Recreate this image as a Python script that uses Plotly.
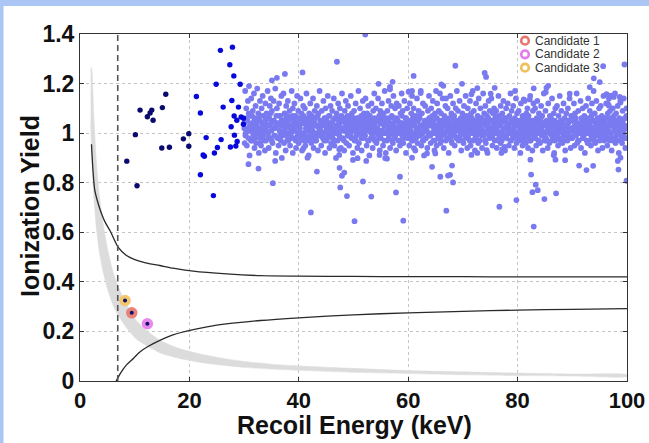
import plotly.graph_objects as go

# ---------------- data ----------------
threshold_kev = 6.9

# navy points (low-energy events)
navy_x = [15.68, 10.98, 13.12, 12.81, 12.31, 13.36, 15.06, 10.12, 14.95, 16.34, 18.90, 19.89, 19.89, 8.55, 10.43]
navy_y = [1.157, 1.093, 1.093, 1.081, 1.066, 1.052, 1.103, 0.994, 0.940, 0.943, 0.977, 0.998, 0.947, 0.887, 0.788]

# bright blue points
blue_x = [21.28, 22.01, 23.06, 22.51, 22.74, 22.01, 24.39, 24.57, 25.12, 25.80, 24.89, 26.17, 25.67, 27.87,
          27.39, 28.12, 29.28, 27.76, 28.97, 28.18, 28.67, 29.46, 29.88, 27.63, 29.88, 28.23, 28.73, 27.50, 28.49]
blue_y = [1.148, 1.081, 0.982, 0.912, 0.907, 0.832, 0.748, 0.920, 0.942, 0.974, 1.197, 1.105, 1.334, 1.347,
          1.276, 1.231, 1.197, 1.132, 1.105, 1.069, 1.052, 1.065, 1.060, 1.026, 1.036, 0.992, 0.966, 0.944, 0.948]

# light purple cloud (band)
cloud_core = [
    (30.0,1.04),(30.1,0.96),(30.2,1.17),(30.3,1.00),(30.4,1.10),(30.5,0.95),(30.6,1.05),(30.7,1.13),(30.8,0.98),(30.9,1.02),(30.9,1.19),
    (31.0,0.91),(31.1,1.07),(31.2,1.01),(31.3,1.14),(31.4,0.97),(31.5,1.04),(31.6,1.09),(31.7,0.99),(31.8,1.16),(31.9,1.02),(31.9,0.94),
    (32.0,1.06),(32.1,1.11),(32.2,0.96),(32.3,1.03),(32.4,1.18),(32.5,1.00),(32.6,1.08),(32.7,0.92),(32.8,1.05),(32.9,1.13),(32.9,0.98),
    (33.0,1.02),(33.1,0.95),(33.2,1.10),(33.3,1.04),(33.4,1.15),(33.5,0.99),(33.6,1.07),(33.7,1.01),(33.8,0.93),(33.9,1.12),(33.9,1.05),
    (34.0,0.97),(34.1,1.08),(34.2,1.03),(34.3,1.17),(34.4,1.00),(34.5,0.94),(34.6,1.06),(34.7,1.11),(34.8,0.98),(34.9,1.04),(34.9,1.14),
    (35.0,1.01),(35.1,1.09),(35.2,0.96),(35.3,1.05),(35.4,1.13),(35.5,0.99),(35.6,1.02),(35.7,1.18),(35.8,0.92),(35.9,1.07),(35.9,1.03),
    (36.0,1.10),(36.1,0.98),(36.2,1.04),(36.3,0.95),(36.4,1.12),(36.5,1.01),(36.6,1.07),(36.7,0.97),(36.8,1.15),(36.9,1.03),(36.9,0.90),
    (37.0,1.05),(37.1,1.00),(37.2,1.16),(37.3,0.96),(37.4,1.08),(37.5,1.02),(37.6,0.93),(37.7,1.11),(37.8,1.04),(37.9,0.99),(37.9,1.07),
    (38.0,1.13),(38.1,0.97),(38.2,1.03),(38.3,1.09),(38.4,0.95),(38.5,1.06),(38.6,1.00),(38.7,1.17),(38.8,1.02),(38.9,0.92),(38.9,1.10),
    (39.0,1.04),(39.1,0.98),(39.2,1.12),(39.3,1.01),(39.4,1.07),(39.5,0.94),(39.6,1.05),(39.7,1.15),(39.8,0.99),(39.9,1.03),(39.9,1.09),
    (40.0,0.96),(40.1,1.06),(40.2,1.02),(40.3,1.14),(40.4,0.99),(40.5,1.08),(40.6,0.93),(40.7,1.04),(40.8,1.11),(40.9,1.00),(40.9,0.97),
    (41.0,1.05),(41.1,1.10),(41.2,0.95),(41.3,1.02),(41.4,1.16),(41.5,0.98),(41.6,1.06),(41.7,1.01),(41.8,0.91),(41.9,1.08),(41.9,1.03),
    (42.0,0.99),(42.1,1.12),(42.2,1.04),(42.3,0.96),(42.4,1.07),(42.5,1.01),(42.6,1.14),(42.7,0.94),(42.8,1.03),(42.9,1.09),(42.9,0.98),
    (43.0,1.06),(43.1,1.00),(43.2,0.97),(43.3,1.11),(43.4,1.03),(43.5,0.93),(43.6,1.08),(43.7,1.02),(43.8,1.17),(43.9,0.99),(43.9,1.05),
    (44.0,1.01),(44.1,0.95),(44.2,1.09),(44.3,1.04),(44.4,0.98),(44.5,1.13),(44.6,1.00),(44.7,1.06),(44.8,0.92),(44.9,1.03),(44.9,1.10),
    (45.0,0.97),(45.1,1.05),(45.2,1.02),(45.3,1.15),(45.4,0.99),(45.5,1.07),(45.6,0.94),(45.7,1.03),(45.8,1.11),(45.9,1.00),(45.9,0.96),
    (46.0,1.04),(46.1,1.09),(46.2,0.98),(46.3,1.01),(46.4,1.14),(46.5,0.95),(46.6,1.06),(46.7,1.02),(46.8,0.90),(46.9,1.08),(46.9,1.00),
    (47.0,1.03),(47.1,0.97),(47.2,1.12),(47.3,1.05),(47.4,0.99),(47.5,1.10),(47.6,1.01),(47.7,0.94),(47.8,1.07),(47.9,1.16),(47.9,1.02),
    (48.0,0.98),(48.1,1.06),(48.2,1.01),(48.3,0.93),(48.4,1.09),(48.5,1.04),(48.6,1.13),(48.7,0.96),(48.8,1.02),(48.9,1.07),(48.9,0.99),
    (49.0,1.11),(49.1,1.00),(49.2,0.95),(49.3,1.05),(49.4,1.02),(49.5,1.15),(49.6,0.98),(49.7,1.08),(49.8,1.03),(49.9,0.92),(49.9,1.06),
    (50.0,1.01),(50.1,1.09),(50.2,0.97),(50.3,1.04),(50.4,1.12),(50.5,0.99),(50.6,1.06),(50.7,0.94),(50.8,1.02),(50.9,1.17),(50.9,1.05),
    (51.0,0.96),(51.1,1.03),(51.2,1.10),(51.3,1.00),(51.4,1.07),(51.5,0.93),(51.6,1.04),(51.7,1.13),(51.8,0.98),(51.9,1.01),(51.9,1.08),
    (52.0,1.05),(52.1,0.99),(52.2,1.14),(52.3,1.02),(52.4,0.95),(52.5,1.08),(52.6,1.01),(52.7,1.11),(52.8,0.97),(52.9,1.04),(52.9,0.91),
    (53.0,1.07),(53.1,1.02),(53.2,0.98),(53.3,1.12),(53.4,1.04),(53.5,0.94),(53.6,1.09),(53.7,1.00),(53.8,1.16),(53.9,1.03),(53.9,0.97),
    (54.0,1.01),(54.1,1.10),(54.2,0.96),(54.3,1.05),(54.4,1.02),(54.5,1.14),(54.6,0.99),(54.7,1.07),(54.8,0.93),(54.9,1.04),(54.9,1.09),
    (55.0,0.98),(55.1,1.06),(55.2,1.12),(55.3,1.01),(55.4,0.95),(55.5,1.08),(55.6,1.03),(55.7,1.17),(55.8,1.00),(55.9,0.92),(55.9,1.05),
    (56.0,1.04),(56.1,0.97),(56.2,1.09),(56.3,1.02),(56.4,1.13),(56.5,0.99),(56.6,1.06),(56.7,0.94),(56.8,1.03),(56.9,1.11),(56.9,1.00),
    (57.0,1.07),(57.1,1.01),(57.2,0.96),(57.3,1.15),(57.4,1.04),(57.5,0.98),(57.6,1.10),(57.7,1.02),(57.8,0.93),(57.9,1.06),(57.9,1.12),
    (58.0,1.00),(58.1,1.05),(58.2,0.97),(58.3,1.11),(58.4,1.03),(58.5,0.95),(58.6,1.08),(58.7,1.01),(58.8,1.16),(58.9,0.99),(58.9,1.04),
    (59.0,1.09),(59.1,0.96),(59.2,1.02),(59.3,1.13),(59.4,1.00),(59.5,1.06),(59.6,0.92),(59.7,1.04),(59.8,1.10),(59.9,0.98),(59.9,1.03),
    (60.0,1.05),(60.1,1.01),(60.2,0.95),(60.3,1.12),(60.4,1.03),(60.5,0.99),(60.6,1.08),(60.7,1.15),(60.8,0.97),(60.9,1.04),(60.9,1.00),
    (61.0,1.10),(61.1,0.98),(61.2,1.04),(61.3,0.93),(61.4,1.07),(61.5,1.02),(61.6,1.14),(61.7,0.96),(61.8,1.05),(61.9,1.01),(61.9,1.09),
    (62.0,0.99),(62.1,1.06),(62.2,1.03),(62.3,1.17),(62.4,0.95),(62.5,1.08),(62.6,1.00),(62.7,1.12),(62.8,0.97),(62.9,1.04),(62.9,0.91),
    (63.0,1.02),(63.1,1.11),(63.2,0.98),(63.3,1.05),(63.4,1.01),(63.5,0.94),(63.6,1.09),(63.7,1.03),(63.8,1.15),(63.9,0.99),(63.9,1.06),
    (64.0,1.04),(64.1,0.96),(64.2,1.10),(64.3,1.00),(64.4,1.07),(64.5,1.13),(64.6,0.97),(64.7,1.02),(64.8,0.93),(64.9,1.08),(64.9,1.03),
    (65.0,1.00),(65.1,1.06),(65.2,0.95),(65.3,1.12),(65.4,1.03),(65.5,0.98),(65.6,1.09),(65.7,1.01),(65.8,1.16),(65.9,0.96),(65.9,1.05),
    (66.0,1.08),(66.1,1.02),(66.2,0.99),(66.3,1.14),(66.4,1.04),(66.5,0.94),(66.6,1.07),(66.7,1.00),(66.8,1.11),(66.9,0.97),(66.9,1.03),
    (67.0,1.05),(67.1,0.98),(67.2,1.10),(67.3,1.01),(67.4,0.92),(67.5,1.06),(67.6,1.03),(67.7,1.15),(67.8,0.99),(67.9,1.08),(67.9,1.02),
    (68.0,0.96),(68.1,1.04),(68.2,1.12),(68.3,1.00),(68.4,1.07),(68.5,0.95),(68.6,1.03),(68.7,1.10),(68.8,0.98),(68.9,1.05),(68.9,1.17),
    (69.0,1.01),(69.1,1.09),(69.2,0.97),(69.3,1.04),(69.4,1.13),(69.5,0.99),(69.6,1.06),(69.7,0.93),(69.8,1.02),(69.9,1.08),(69.9,1.00),
    (70.0,1.03),(70.1,0.96),(70.2,1.11),(70.3,1.05),(70.4,0.99),(70.5,1.15),(70.6,1.01),(70.7,1.07),(70.8,0.94),(70.9,1.04),(70.9,1.10),
    (71.0,0.98),(71.1,1.06),(71.2,1.02),(71.3,1.13),(71.4,0.95),(71.5,1.08),(71.6,1.00),(71.7,1.04),(71.8,1.17),(71.9,0.97),(71.9,1.03),
    (72.0,1.09),(72.1,1.01),(72.2,0.93),(72.3,1.05),(72.4,1.12),(72.5,0.99),(72.6,1.03),(72.7,1.07),(72.8,0.96),(72.9,1.14),(72.9,1.00),
    (73.0,1.04),(73.1,0.97),(73.2,1.10),(73.3,1.02),(73.4,1.06),(73.5,0.94),(73.6,1.01),(73.7,1.16),(73.8,0.99),(73.9,1.05),(73.9,1.08),
    (74.0,1.00),(74.1,1.11),(74.2,0.96),(74.3,1.03),(74.4,1.07),(74.5,0.92),(74.6,1.04),(74.7,1.13),(74.8,0.98),(74.9,1.02),(74.9,1.09),
    (75.0,1.05),(75.1,0.99),(75.2,1.14),(75.3,1.01),(75.4,0.95),(75.5,1.08),(75.6,1.03),(75.7,1.10),(75.8,0.97),(75.9,1.06),(75.9,1.00),
    (76.0,1.02),(76.1,1.09),(76.2,0.94),(76.3,1.05),(76.4,1.00),(76.5,1.15),(76.6,0.98),(76.7,1.07),(76.8,1.03),(76.9,0.96),(76.9,1.11),
    (77.0,1.04),(77.1,0.97),(77.2,1.08),(77.3,1.01),(77.4,1.13),(77.5,0.99),(77.6,1.05),(77.7,0.93),(77.8,1.02),(77.9,1.10),(77.9,1.06),
    (78.0,0.98),(78.1,1.03),(78.2,1.12),(78.3,1.00),(78.4,0.95),(78.5,1.07),(78.6,1.04),(78.7,1.16),(78.8,0.97),(78.9,1.01),(78.9,1.09),
    (79.0,1.05),(79.1,0.99),(79.2,1.11),(79.3,1.02),(79.4,0.94),(79.5,1.06),(79.6,1.03),(79.7,1.14),(79.8,0.96),(79.9,1.08),(79.9,1.00),
    (80.0,1.03),(80.1,0.97),(80.2,1.09),(80.3,1.01),(80.4,1.05),(80.5,0.92),(80.6,1.12),(80.7,0.99),(80.8,1.04),(80.9,1.07),(80.9,0.95),
    (81.0,1.01),(81.1,1.06),(81.2,0.98),(81.3,1.13),(81.4,1.02),(81.5,0.96),(81.6,1.08),(81.7,1.00),(81.8,1.10),(81.9,0.94),(81.9,1.04),
    (82.0,1.07),(82.1,0.99),(82.2,1.03),(82.3,1.15),(82.4,0.97),(82.5,1.05),(82.6,1.01),(82.7,0.93),(82.8,1.09),(82.9,1.02),(82.9,1.12),
    (83.0,0.98),(83.1,1.04),(83.2,1.10),(83.3,1.00),(83.4,0.95),(83.5,1.06),(83.6,1.13),(83.7,1.02),(83.8,0.97),(83.9,1.08),(83.9,1.01),
    (84.0,1.05),(84.1,0.96),(84.2,1.02),(84.3,1.11),(84.4,0.99),(84.5,1.07),(84.6,0.93),(84.7,1.04),(84.8,1.16),(84.9,1.00),(84.9,0.97),
    (85.0,1.03),(85.1,1.09),(85.2,0.98),(85.3,1.05),(85.4,1.01),(85.5,0.94),(85.6,1.12),(85.7,1.02),(85.8,0.96),(85.9,1.07),(85.9,1.04),
    (86.0,1.00),(86.1,1.06),(86.2,0.97),(86.3,1.14),(86.4,1.03),(86.5,0.99),(86.6,1.08),(86.7,0.92),(86.8,1.05),(86.9,1.01),(86.9,1.10),
    (87.0,0.98),(87.1,1.04),(87.2,1.11),(87.3,1.00),(87.4,0.95),(87.5,1.07),(87.6,1.02),(87.7,1.15),(87.8,0.97),(87.9,1.05),(87.9,1.03),
    (88.0,1.09),(88.1,1.01),(88.2,0.96),(88.3,1.04),(88.4,1.12),(88.5,0.99),(88.6,1.06),(88.7,0.93),(88.8,1.02),(88.9,1.08),(88.9,1.00),
    (89.0,1.03),(89.1,0.97),(89.2,1.10),(89.3,1.05),(89.4,0.99),(89.5,1.14),(89.6,1.01),(89.7,0.94),(89.8,1.07),(89.9,1.02),(89.9,1.06),
    (90.0,0.98),(90.1,1.05),(90.2,1.01),(90.3,1.12),(90.4,0.95),(90.5,1.08),(90.6,1.03),(90.7,0.99),(90.8,1.16),(90.9,1.04),(90.9,0.96),
    (91.0,1.02),(91.1,1.09),(91.2,0.97),(91.3,1.04),(91.4,1.00),(91.5,1.13),(91.6,0.94),(91.7,1.06),(91.8,1.01),(91.9,1.10),(91.9,0.98),
    (92.0,1.05),(92.1,0.99),(92.2,1.07),(92.3,0.92),(92.4,1.03),(92.5,1.11),(92.6,1.00),(92.7,1.06),(92.8,0.96),(92.9,1.14),(92.9,1.02),
    (93.0,1.04),(93.1,0.97),(93.2,1.09),(93.3,1.01),(93.4,0.95),(93.5,1.07),(93.6,1.12),(93.7,1.00),(93.8,1.05),(93.9,0.98),(93.9,1.17),
    (94.0,1.02),(94.1,1.08),(94.2,0.96),(94.3,1.04),(94.4,1.13),(94.5,0.99),(94.6,1.06),(94.7,0.93),(94.8,1.01),(94.9,1.10),(94.9,1.03),
    (95.0,0.97),(95.1,1.05),(95.2,1.11),(95.3,1.00),(95.4,1.07),(95.5,0.94),(95.6,1.03),(95.7,1.15),(95.8,0.98),(95.9,1.06),(95.9,1.01),
    (96.0,1.04),(96.1,0.99),(96.2,1.12),(96.3,1.02),(96.4,0.95),(96.5,1.08),(96.6,1.01),(96.7,1.14),(96.8,0.97),(96.9,1.05),(96.9,1.09),
    (97.0,1.00),(97.1,1.06),(97.2,0.93),(97.3,1.03),(97.4,1.10),(97.5,0.98),(97.6,1.07),(97.7,1.01),(97.8,1.16),(97.9,0.96),(97.9,1.04),
    (98.0,1.08),(98.1,1.02),(98.2,0.97),(98.3,1.11),(98.4,1.04),(98.5,0.92),(98.6,1.06),(98.7,1.00),(98.8,1.13),(98.9,0.99),(98.9,1.05),
    (99.0,1.03),(99.1,0.96),(99.2,1.09),(99.3,1.01),(99.4,1.14),(99.5,0.98),(99.6,1.06),(99.7,0.94),(99.8,1.02),(99.9,1.10),(99.9,1.07),
]

# light purple cloud (densest centre of the band)
cloud_centre = [
    (30.05,1.02),(30.25,0.99),(30.45,1.06),(30.65,1.01),(30.85,1.08),(31.05,1.03),(31.25,0.97),(31.45,1.07),(31.65,1.00),(31.85,1.05),
    (32.05,0.98),(32.25,1.04),(32.45,1.01),(32.65,1.06),(32.85,0.96),(33.05,1.07),(33.25,1.00),(33.45,1.03),(33.65,0.97),(33.85,1.05),
    (34.05,1.01),(34.25,1.06),(34.45,0.98),(34.65,1.03),(34.85,1.08),(35.05,0.97),(35.25,1.02),(35.45,1.05),(35.65,0.99),(35.85,1.04),
    (36.05,1.03),(36.25,0.98),(36.45,1.07),(36.65,1.00),(36.85,1.05),(37.05,0.99),(37.25,1.04),(37.45,1.01),(37.65,1.06),(37.85,0.97),
    (38.05,1.05),(38.25,1.00),(38.45,1.02),(38.65,0.98),(38.85,1.07),(39.05,1.01),(39.25,1.06),(39.45,0.97),(39.65,1.03),(39.85,1.00),
    (40.05,1.03),(40.25,0.98),(40.45,1.05),(40.65,1.00),(40.85,1.07),(41.05,0.99),(41.25,1.04),(41.45,1.01),(41.65,0.97),(41.85,1.05),
    (42.05,1.02),(42.25,0.98),(42.45,1.06),(42.65,1.00),(42.85,1.04),(43.05,0.97),(43.25,1.03),(43.45,1.07),(43.65,0.99),(43.85,1.01),
    (44.05,1.05),(44.25,1.00),(44.45,1.03),(44.65,0.97),(44.85,1.06),(45.05,1.01),(45.25,0.98),(45.45,1.04),(45.65,1.07),(45.85,1.02),
    (46.05,0.99),(46.25,1.05),(46.45,1.01),(46.65,0.97),(46.85,1.03),(47.05,1.06),(47.25,1.00),(47.45,1.04),(47.65,0.98),(47.85,1.02),
    (48.05,1.05),(48.25,0.97),(48.45,1.01),(48.65,1.06),(48.85,1.03),(49.05,0.99),(49.25,1.04),(49.45,1.00),(49.65,1.07),(49.85,0.98),
    (50.05,1.04),(50.25,1.01),(50.45,0.97),(50.65,1.03),(50.85,1.06),(51.05,1.00),(51.25,1.05),(51.45,0.98),(51.65,1.02),(51.85,1.07),
    (52.05,0.99),(52.25,1.03),(52.45,1.06),(52.65,0.97),(52.85,1.01),(53.05,1.05),(53.25,1.00),(53.45,1.03),(53.65,0.98),(53.85,1.06),
    (54.05,1.02),(54.25,0.97),(54.45,1.05),(54.65,1.01),(54.85,0.99),(55.05,1.04),(55.25,1.07),(55.45,1.00),(55.65,0.97),(55.85,1.03),
    (56.05,1.06),(56.25,1.01),(56.45,0.98),(56.65,1.04),(56.85,1.00),(57.05,0.97),(57.25,1.03),(57.45,1.06),(57.65,0.99),(57.85,1.02),
    (58.05,1.05),(58.25,1.00),(58.45,0.97),(58.65,1.04),(58.85,1.07),(59.05,1.01),(59.25,0.98),(59.45,1.03),(59.65,1.06),(59.85,1.00),
    (60.05,0.98),(60.25,1.04),(60.45,1.01),(60.65,0.97),(60.85,1.06),(61.05,1.03),(61.25,1.00),(61.45,0.98),(61.65,1.05),(61.85,1.02),
    (62.05,1.07),(62.25,0.99),(62.45,1.03),(62.65,0.97),(62.85,1.01),(63.05,1.05),(63.25,0.98),(63.45,1.04),(63.65,1.00),(63.85,1.06),
    (64.05,0.99),(64.25,1.03),(64.45,1.00),(64.65,1.05),(64.85,0.97),(65.05,1.02),(65.25,1.06),(65.45,0.99),(65.65,1.04),(65.85,1.01),
    (66.05,0.97),(66.25,1.05),(66.45,1.00),(66.65,1.03),(66.85,1.06),(67.05,1.01),(67.25,0.98),(67.45,1.04),(67.65,1.00),(67.85,0.97),
    (68.05,1.03),(68.25,1.06),(68.45,0.99),(68.65,1.01),(68.85,1.04),(69.05,0.98),(69.25,1.02),(69.45,1.05),(69.65,1.00),(69.85,0.97),
    (70.05,1.06),(70.25,1.01),(70.45,1.03),(70.65,0.98),(70.85,1.00),(71.05,1.04),(71.25,0.97),(71.45,1.02),(71.65,1.06),(71.85,1.00),
    (72.05,1.03),(72.25,0.98),(72.45,1.05),(72.65,1.01),(72.85,0.97),(73.05,1.02),(73.25,1.06),(73.45,0.99),(73.65,1.04),(73.85,1.00),
    (74.05,0.97),(74.25,1.03),(74.45,1.01),(74.65,1.06),(74.85,0.99),(75.05,1.02),(75.25,1.05),(75.45,0.98),(75.65,1.00),(75.85,1.04),
    (76.05,1.07),(76.25,1.01),(76.45,0.97),(76.65,1.03),(76.85,1.00),(77.05,1.05),(77.25,0.98),(77.45,1.02),(77.65,1.06),(77.85,0.99),
    (78.05,1.04),(78.25,1.00),(78.45,1.02),(78.65,0.97),(78.85,1.05),(79.05,1.01),(79.25,0.98),(79.45,1.03),(79.65,1.00),(79.85,1.05),
    (80.05,0.99),(80.25,1.04),(80.45,1.01),(80.65,0.97),(80.85,1.02),(81.05,1.05),(81.25,1.00),(81.45,0.98),(81.65,1.03),(81.85,1.06),
    (82.05,1.01),(82.25,0.97),(82.45,1.03),(82.65,1.00),(82.85,1.05),(83.05,1.02),(83.25,0.98),(83.45,1.04),(83.65,1.00),(83.85,0.97),
    (84.05,1.03),(84.25,1.06),(84.45,1.01),(84.65,0.99),(84.85,1.04),(85.05,1.00),(85.25,0.97),(85.45,1.03),(85.65,1.05),(85.85,1.00),
    (86.05,1.02),(86.25,0.99),(86.45,1.05),(86.65,1.01),(86.85,0.97),(87.05,1.03),(87.25,1.00),(87.45,1.04),(87.65,0.98),(87.85,1.02),
    (88.05,1.05),(88.25,1.00),(88.45,0.97),(88.65,1.03),(88.85,1.01),(89.05,0.99),(89.25,1.04),(89.45,1.01),(89.65,1.05),(89.85,0.98),
    (90.05,1.02),(90.25,0.99),(90.45,1.03),(90.65,1.06),(90.85,1.00),(91.05,0.97),(91.25,1.03),(91.45,1.00),(91.65,1.04),(91.85,1.02),
    (92.05,0.98),(92.25,1.04),(92.45,1.01),(92.65,0.97),(92.85,1.05),(93.05,1.00),(93.25,1.03),(93.45,0.99),(93.65,1.05),(93.85,1.02),
    (94.05,0.97),(94.25,1.01),(94.45,1.04),(94.65,1.00),(94.85,1.06),(95.05,1.02),(95.25,0.98),(95.45,1.04),(95.65,1.00),(95.85,0.97),
    (96.05,1.03),(96.25,1.06),(96.45,1.01),(96.65,0.98),(96.85,1.03),(97.05,1.00),(97.25,1.04),(97.45,0.97),(97.65,1.02),(97.85,1.05),
    (98.05,0.99),(98.25,1.03),(98.45,1.01),(98.65,1.05),(98.85,0.97),(99.05,1.02),(99.25,1.05),(99.45,1.00),(99.65,1.03),(99.85,0.98),
]

# light purple cloud (scattered outliers)
cloud_outliers = [
    (52.15,1.398),(46.97,1.288),(40.68,1.245),(37.46,1.239),(35.99,1.223),(35.08,1.213),(54.58,1.199),
    (35.68,0.888),(43.31,0.845),(35.26,0.798),(47.45,0.860),(47.89,0.828),(48.31,0.841),(47.58,0.781),
    (51.73,0.805),(48.80,0.746),(53.25,0.744),(42.21,0.680),(50.19,0.645),(40.86,0.939),(41.59,0.901),
    (47.39,0.935),(47.39,0.912),(49.90,0.892),(50.74,0.899),(52.33,0.888),(54.77,0.912),(56.12,0.897),
    (68.62,1.272),(73.98,1.243),(74.24,1.227),(60.99,1.231),(57.15,1.207),(56.67,1.177),(56.67,1.187),
    (66.06,1.197),(66.42,1.191),(69.84,1.199),(60.07,1.167),(60.70,1.170),(65.09,1.170),(62.27,1.162),
    (66.92,1.140),(71.55,1.157),(72.64,1.182),(75.08,1.159),(75.81,1.183),(55.81,0.899),(58.50,0.824),
    (57.77,0.761),(59.10,0.647),(64.36,0.864),(65.87,0.824),(67.28,0.829),(67.65,0.832),(68.20,0.801),
    (68.02,0.869),(66.97,0.687),(76.67,0.703),(60.70,0.901),(61.06,0.939),(63.44,0.918),(64.96,0.918),
    (71.55,0.912),(72.64,0.920),(74.35,0.931),(77.04,0.920),
    (95.64,1.270),(99.54,1.277),(93.93,1.221),(95.02,1.206),(79.54,1.170),(82.95,1.181),(85.27,1.183),
    (85.58,1.191),(85.14,1.165),(93.19,1.186),(81.12,1.136),(82.21,1.136),(89.53,1.159),(96.25,1.157),
    (96.98,1.151),(97.58,1.146),(98.68,1.146),(98.81,1.124),(96.49,1.119),(96.67,1.112),(82.34,0.893),
    (82.47,0.833),(83.31,0.792),(83.68,0.770),(82.71,0.762),(84.90,0.734),(87.04,0.757),(79.78,0.730),
    (82.95,0.623),(86.61,0.911),(86.92,0.893),(88.69,0.891),(91.25,0.869),(92.59,0.851),(93.81,0.868),
    (98.32,0.888),(98.81,0.901),(98.44,0.853),(99.91,0.808),(77.22,0.934),(77.59,0.944),
    (32.63,0.857),(30.80,0.875),
]

# candidate events
cand_names = ["Candidate 1", "Candidate 2", "Candidate 3"]
cand_x = [9.46, 12.32, 8.23]
cand_y = [0.275, 0.231, 0.325]
cand_ring = ["#e8766d", "#e47be8", "#eebf5a"]
cand_halo = ["#e8837b", "#e889ee", "#f3c66e"]

# upper black band limit
upper_x = [2.1, 2.4, 2.7, 3.2, 3.7, 4.5, 5.5, 7.0, 8.5, 10.0, 12.0, 14.6, 17.0, 20.7, 26.8, 33.0, 40, 50, 60, 70, 80, 90, 100]
upper_y = [0.955, 0.84, 0.77, 0.725, 0.69, 0.645, 0.606, 0.539, 0.506, 0.490, 0.477, 0.466, 0.455, 0.443, 0.432, 0.425, 0.423, 0.422, 0.421, 0.421, 0.420, 0.420, 0.420]

# lower black band limit
lower_x = [6.6, 7.5, 8.5, 9.8, 11.0, 12.5, 14.6, 17.0, 20.7, 25.0, 33.0, 40, 50, 60, 70, 80, 90, 100]
lower_y = [0.0, 0.035, 0.065, 0.092, 0.118, 0.140, 0.164, 0.186, 0.207, 0.225, 0.244, 0.255, 0.267, 0.275, 0.281, 0.286, 0.289, 0.292]

# grey band (upper and lower edges)
band_x  = [1.95, 2.1, 2.3, 2.6, 3.0, 3.5, 4.2, 5.0, 6.0, 7.0, 8.5, 10.4, 12.5, 14.8, 18, 22, 26, 30, 35, 40, 50, 60, 70, 80, 90, 100]
band_hi = [1.265, 1.265, 1.20, 1.04, 0.885, 0.755, 0.637, 0.537, 0.443, 0.380, 0.309, 0.241, 0.198, 0.162, 0.132, 0.109, 0.092, 0.079, 0.068, 0.061, 0.051, 0.042, 0.037, 0.032, 0.028, 0.026]
band_lo = [1.04, 0.94, 0.84, 0.72, 0.615, 0.525, 0.443, 0.373, 0.308, 0.264, 0.215, 0.167, 0.138, 0.112, 0.092, 0.075, 0.064, 0.055, 0.048, 0.043, 0.035, 0.030, 0.025, 0.022, 0.020, 0.018]

x_ticks = [0, 20, 40, 60, 80, 100]
y_ticks = [0, 0.2, 0.4, 0.6, 0.8, 1.0, 1.2, 1.4]
y_tick_text = ["0", "0.2", "0.4", "0.6", "0.8", "1", "1.2", "1.4"]

# ---------------- figure ----------------
W, H = 649, 443
L, R, T, B = 80, 22, 34, 62
PW, PH = W - L - R, H - T - B

def pxx(px):
    return (px - L) / PW

def pxy(py):
    return (H - B - py) / PH

FONT = "Liberation Sans, Arial, Helvetica, sans-serif"

fig = go.Figure()

# grey band
fig.add_trace(go.Scatter(
    x=band_x + band_x[::-1], y=band_hi + band_lo[::-1],
    fill="toself", fillcolor="#dcdcdc", mode="lines",
    line=dict(color="#dcdcdc", width=0.5, shape="spline", smoothing=0.6),
    hoverinfo="skip", showlegend=False))

# black limits
for xs, ys in [(upper_x, upper_y), (lower_x, lower_y)]:
    fig.add_trace(go.Scatter(x=xs, y=ys, mode="lines",
                             line=dict(color="#2a2a2a", width=1.3, shape="spline", smoothing=0.8),
                             hoverinfo="skip", showlegend=False))

# threshold dashed line
fig.add_trace(go.Scatter(x=[threshold_kev, threshold_kev], y=[0, 1.4], mode="lines",
                         line=dict(color="#555555", width=1.6, dash="6px,4px"),
                         hoverinfo="skip", showlegend=False))

# cloud
cloud = cloud_core + cloud_centre + cloud_outliers
fig.add_trace(go.Scatter(x=[p[0] for p in cloud], y=[p[1] for p in cloud], mode="markers",
                         marker=dict(color="#7a7af0", size=5.8, line=dict(width=0)),
                         showlegend=False))

# blue & navy
fig.add_trace(go.Scatter(x=blue_x, y=blue_y, mode="markers",
                         marker=dict(color="#0808dc", size=5.4, line=dict(width=0)), showlegend=False))
fig.add_trace(go.Scatter(x=navy_x, y=navy_y, mode="markers",
                         marker=dict(color="#0a0a6e", size=5.4, line=dict(width=0)), showlegend=False))

# candidates
for i in range(3):
    fig.add_trace(go.Scatter(x=[cand_x[i]], y=[cand_y[i]], mode="markers",
                             marker=dict(color=cand_halo[i], size=11.5, line=dict(width=0)),
                             showlegend=False))
fig.add_trace(go.Scatter(x=cand_x, y=cand_y, mode="markers",
                         marker=dict(color="#10106a", size=4, line=dict(width=0)), showlegend=False))

# legend (rings + labels)
shapes = []
annotations = []
leg_rows_py = [40.7, 54.3, 67.7]
for i in range(3):
    shapes.append(dict(type="circle", xref="paper", yref="paper",
                       xsizemode="pixel", ysizemode="pixel",
                       xanchor=pxx(525), yanchor=pxy(leg_rows_py[i]),
                       x0=-3.8, x1=3.8, y0=-3.8, y1=3.8,
                       line=dict(color=cand_ring[i], width=2.6), fillcolor="rgba(0,0,0,0)"))
    annotations.append(dict(xref="paper", yref="paper", x=pxx(533), y=pxy(leg_rows_py[i]),
                            xanchor="left", yanchor="middle", showarrow=False,
                            text=cand_names[i],
                            font=dict(family=FONT, size=12, color="#333333")))

# axis titles
title_font = dict(family=FONT, size=25, color="#111111")
annotations.append(dict(xref="paper", yref="paper", x=pxx(354), y=pxy(425),
                        xanchor="center", yanchor="middle", showarrow=False,
                        text="<b>Recoil Energy (keV)</b>", font=title_font))
annotations.append(dict(xref="paper", yref="paper", x=pxx(30), y=pxy(206),
                        xanchor="center", yanchor="middle", showarrow=False, textangle=-90,
                        text="<b>Ionization Yield</b>", font=title_font))

# light blue frame around the slide
frame_col = "#abc6f4"
shapes.append(dict(type="rect", xref="paper", yref="paper", layer="above",
                   x0=pxx(0), x1=pxx(W), y0=pxy(6), y1=pxy(0),
                   fillcolor=frame_col, line=dict(width=0)))
shapes.append(dict(type="rect", xref="paper", yref="paper", layer="above",
                   x0=pxx(0), x1=pxx(3.5), y0=pxy(H), y1=pxy(0),
                   fillcolor=frame_col, line=dict(width=0)))

axis_font = dict(family=FONT, size=22, color="#111111")

fig.update_layout(
    width=W, height=H,
    margin=dict(l=L, r=R, t=T, b=B, autoexpand=False),
    paper_bgcolor="white", plot_bgcolor="white",
    showlegend=False,
    shapes=shapes, annotations=annotations,
    xaxis=dict(range=[0, 100], tickvals=x_ticks, ticktext=[f"<b>{v}</b>" for v in x_ticks],
               tickfont=axis_font, ticks="inside", ticklen=4, tickcolor="#333333",
               showline=True, linecolor="#333333", linewidth=1, mirror="ticks",
               showgrid=True, gridcolor="#c4c4c4", griddash="dot", gridwidth=1, zeroline=False,
               automargin=False),
    yaxis=dict(range=[0, 1.4], tickvals=y_ticks, ticktext=[f"<b>{t}</b>" for t in y_tick_text],
               tickfont=dict(family=FONT, size=23, color="#111111"),
               ticks="inside", ticklen=4, tickcolor="#333333",
               showline=True, linecolor="#333333", linewidth=1, mirror="ticks",
               showgrid=True, gridcolor="#c4c4c4", griddash="dot", gridwidth=1, zeroline=False,
               automargin=False),
)

fig.write_html("out.html", config={"displayModeBar": False},
               post_script="document.body.style.margin='0px';document.body.style.overflow='hidden';")
